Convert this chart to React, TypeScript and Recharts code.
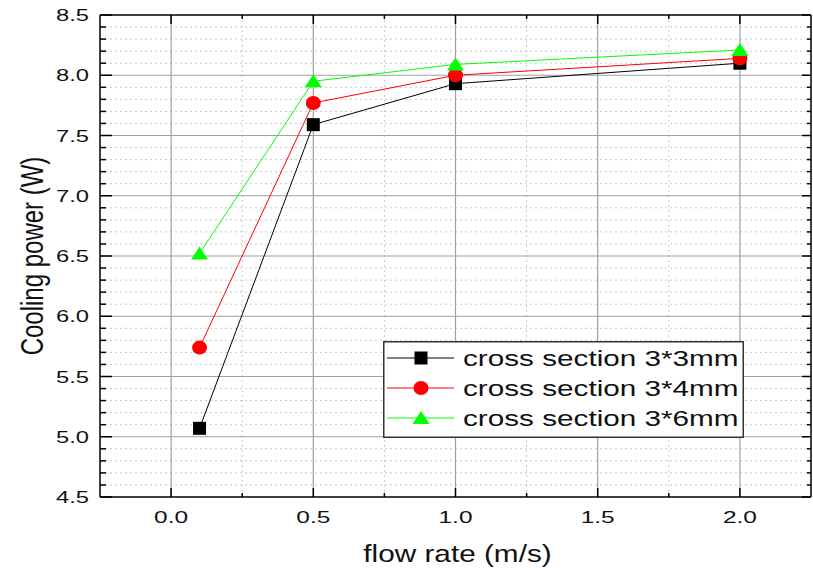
import React from "react";
import { LineChart, Line, XAxis, YAxis, ReferenceLine, Legend } from "recharts";

const flowRates = [0.1, 0.5, 1.0, 2.0];
const power3x3 = [5.07, 7.59, 7.93, 8.1];
const power3x4 = [5.74, 7.77, 8.0, 8.14];
const power3x6 = [6.52, 7.95, 8.09, 8.21];

const seriesNames = ["cross section 3*3mm", "cross section 3*4mm", "cross section 3*6mm"];
const seriesKeys = ["s33", "s34", "s36"];
const seriesColors = ["#000000", "#ff0000", "#00ff00"];

const xMajorTicks = [0, 0.5, 1.0, 1.5, 2.0];
const xMinorTicks = [0.25, 0.75, 1.25, 1.75];
const yMajorTicks = [4.5, 5.0, 5.5, 6.0, 6.5, 7.0, 7.5, 8.0, 8.5];
const yMinorTicks = [
  4.6, 4.7, 4.8, 4.9, 5.1, 5.2, 5.3, 5.4, 5.6, 5.7, 5.8, 5.9, 6.1, 6.2, 6.3, 6.4,
  6.6, 6.7, 6.8, 6.9, 7.1, 7.2, 7.3, 7.4, 7.6, 7.7, 7.8, 7.9, 8.1, 8.2, 8.3, 8.4,
];

const data = flowRates.map((x, i) => ({
  x,
  s33: power3x3[i],
  s34: power3x4[i],
  s36: power3x6[i],
}));

const FONT = '"Liberation Sans", Arial, sans-serif';
const xTicks = [...xMajorTicks, ...xMinorTicks].sort((a, b) => a - b);
const yTicks = [...yMajorTicks, ...yMinorTicks].sort((a, b) => a - b);
const isMajor = (v: number) => Math.abs(v * 2 - Math.round(v * 2)) < 1e-6;

const LeftTick = ({ x, y, payload }: any) => {
  const major = isMajor(payload.value);
  return (
    <g>
      <line x1={x} y1={y} x2={x + (major ? 12 : 6)} y2={y} stroke="#000" strokeWidth={1.5} />
      {major && (
        <text
          transform={`translate(${x - 11},${y + 6}) scale(1.44,1)`}
          textAnchor="end"
          fontFamily={FONT}
          fontSize={16.5}
          fill="#111"
        >
          {payload.value.toFixed(1)}
        </text>
      )}
    </g>
  );
};

const RightTick = ({ x, y, payload }: any) => {
  const major = isMajor(payload.value);
  return <line x1={x} y1={y} x2={x - (major ? 9 : 4)} y2={y} stroke="#000" strokeWidth={1.5} />;
};

const BottomTick = ({ x, y, payload }: any) => {
  const major = isMajor(payload.value);
  return (
    <g>
      <line x1={x} y1={y} x2={x} y2={y - (major ? 9 : 4)} stroke="#000" strokeWidth={1.5} />
      {major && (
        <text
          transform={`translate(${x},${y + 26}) scale(1.44,1)`}
          textAnchor="middle"
          fontFamily={FONT}
          fontSize={17}
          fill="#111"
        >
          {payload.value.toFixed(1)}
        </text>
      )}
    </g>
  );
};

const TopTick = ({ x, y, payload }: any) => {
  const major = isMajor(payload.value);
  return <line x1={x} y1={y} x2={x} y2={y + (major ? 9 : 4)} stroke="#000" strokeWidth={1.5} />;
};

const renderMarker = (index: number, cx: number, cy: number, key?: any) => {
  if (index === 0) {
    return <rect key={key} x={cx - 6.5} y={cy - 6.5} width={13} height={13} fill="#000" />;
  }
  if (index === 1) {
    return <ellipse key={key} cx={cx} cy={cy} rx={7.5} ry={7} fill="#ff0000" />;
  }
  return (
    <polygon
      key={key}
      points={`${cx},${cy - 7} ${cx + 8.5},${cy + 6} ${cx - 8.5},${cy + 6}`}
      fill="#00ff00"
    />
  );
};

const makeDot = (index: number) => (props: any) =>
  renderMarker(index, props.cx, props.cy, `${index}-${props.index}`);

const LegendBox = ({ payload }: any) => (
  <svg width={361} height={97} style={{ display: "block" }}>
    <rect x={0.75} y={0.75} width={359.5} height={95.5} fill="#fff" stroke="#333" strokeWidth={1.5} />
    {(payload || []).map((entry: any, i: number) => {
      const cy = 17 + i * 30;
      return (
        <g key={entry.value}>
          <line x1={4} y1={cy} x2={71} y2={cy} stroke={seriesColors[i]} strokeWidth={1} />
          {renderMarker(i, 38, cy)}
          <text
            transform={`translate(80,${cy + 8}) scale(1.35,1)`}
            fontFamily={FONT}
            fontSize={22}
            fill="#111"
          >
            {entry.value}
          </text>
        </g>
      );
    })}
  </svg>
);

const YTitle = ({ viewBox }: any) => (
  <text
    transform={`translate(${viewBox.x + 42.5},${viewBox.y + viewBox.height / 2}) scale(1.28,1) rotate(-90)`}
    textAnchor="middle"
    fontFamily={FONT}
    fontSize={24}
    fill="#111"
  >
    Cooling power (W)
  </text>
);

const XTitle = ({ viewBox }: any) => (
  <text
    transform={`translate(${viewBox.x + viewBox.width / 2 + 2},${viewBox.y + 65}) scale(1.24,1)`}
    textAnchor="middle"
    fontFamily={FONT}
    fontSize={24}
    fill="#111"
  >
    flow rate (m/s)
  </text>
);

export default function App() {
  const axisLine = { stroke: "#000", strokeWidth: 1.5 };
  return (
    <div style={{ position: "absolute", left: 0, top: 0, background: "#fff" }}>
      <LineChart width={813} height={568} data={data} margin={{ top: 0, right: 0, bottom: 0, left: 0 }}>
        {yMinorTicks.map((v) => (
          <ReferenceLine key={`ym${v}`} y={v} stroke="#c8c8c8" strokeDasharray="2 3" />
        ))}
        {xMinorTicks.map((v) => (
          <ReferenceLine key={`xm${v}`} x={v} stroke="#c8c8c8" strokeDasharray="2 3" />
        ))}
        {yMajorTicks.slice(1, -1).map((v) => (
          <ReferenceLine key={`yM${v}`} y={v} stroke="#a0a0a0" strokeWidth={1.2} />
        ))}
        {xMajorTicks.map((v) => (
          <ReferenceLine key={`xM${v}`} x={v} stroke="#a0a0a0" strokeWidth={1.2} />
        ))}
        <XAxis
          dataKey="x"
          type="number"
          domain={[-0.25, 2.25]}
          ticks={xTicks}
          interval={0}
          height={71}
          tickSize={0}
          tickMargin={0}
          tickLine={false}
          axisLine={axisLine}
          tick={<BottomTick />}
          label={<XTitle />}
          allowDataOverflow
        />
        <XAxis
          xAxisId="top"
          orientation="top"
          dataKey="x"
          type="number"
          domain={[-0.25, 2.25]}
          ticks={xTicks}
          interval={0}
          height={15}
          tickSize={0}
          tickMargin={0}
          tickLine={false}
          axisLine={axisLine}
          tick={<TopTick />}
          allowDataOverflow
        />
        <YAxis
          type="number"
          domain={[4.5, 8.5]}
          ticks={yTicks}
          interval={0}
          width={100}
          tickSize={0}
          tickMargin={0}
          tickLine={false}
          axisLine={axisLine}
          tick={<LeftTick />}
          label={<YTitle />}
          allowDataOverflow
        />
        <YAxis
          yAxisId="right"
          orientation="right"
          type="number"
          domain={[4.5, 8.5]}
          ticks={yTicks}
          interval={0}
          width={2}
          tickSize={0}
          tickMargin={0}
          tickLine={false}
          axisLine={axisLine}
          tick={<RightTick />}
          allowDataOverflow
        />
        {seriesKeys.map((key, i) => (
          <Line
            key={key}
            type="linear"
            dataKey={key}
            name={seriesNames[i]}
            stroke={seriesColors[i]}
            strokeWidth={1}
            dot={makeDot(i)}
            activeDot={false}
            isAnimationActive={false}
          />
        ))}
        <Legend
          layout="vertical"
          align="center"
          verticalAlign="middle"
          content={<LegendBox />}
          wrapperStyle={{ left: 383, top: 341, width: 361, height: 97 }}
        />
      </LineChart>
    </div>
  );
}
